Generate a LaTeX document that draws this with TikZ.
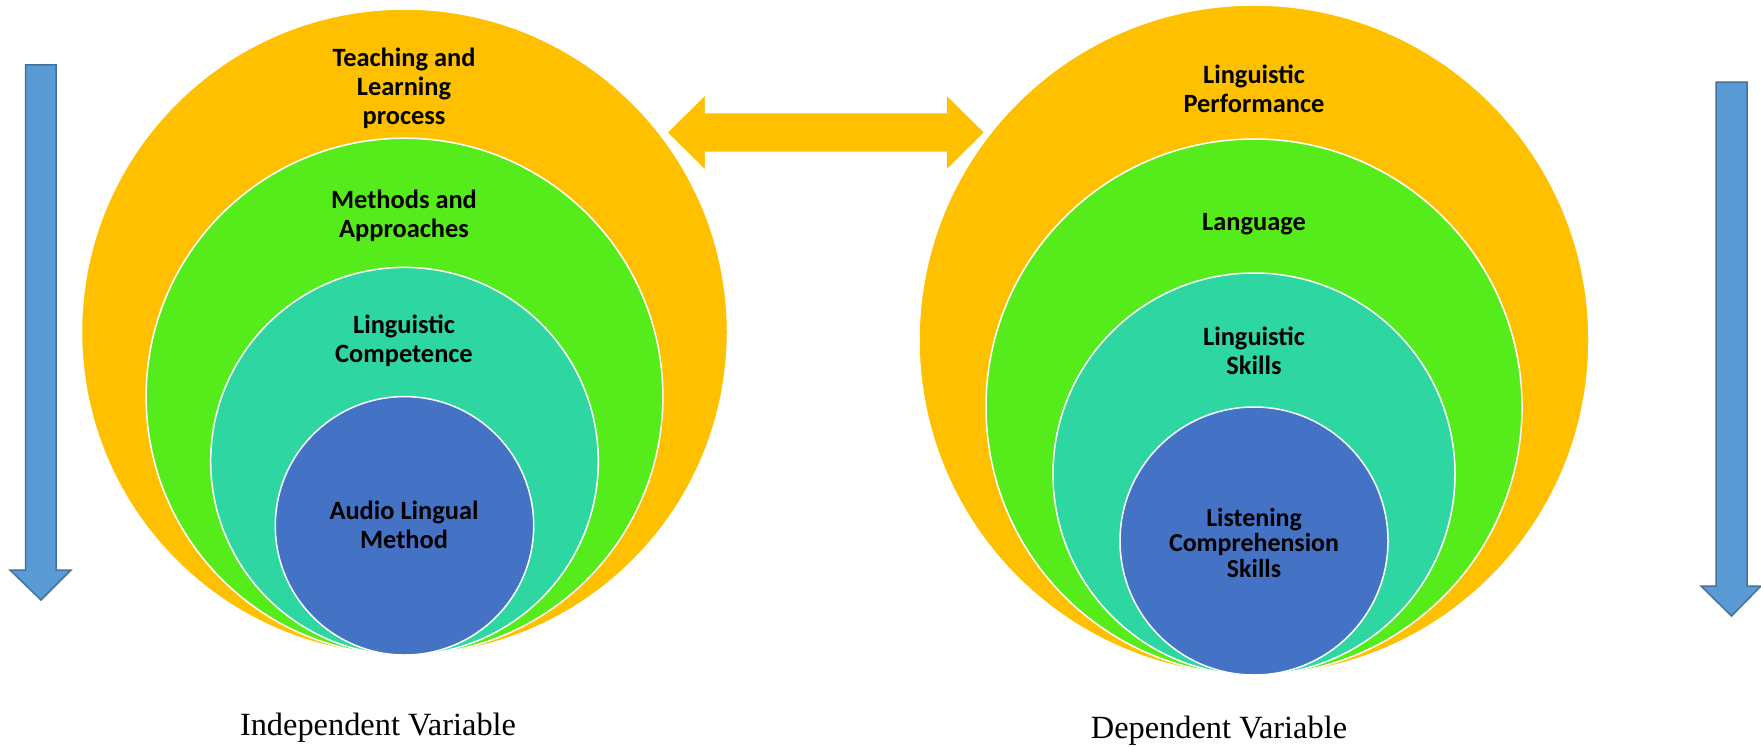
\documentclass[tikz,border=0pt]{standalone}
\usepackage{fontspec}
\setmainfont{Liberation Serif}
\newfontfamily\calibri{Carlito}
\definecolor{ringorange}{HTML}{FFC000}
\definecolor{ringgreen}{HTML}{56EB1B}
\definecolor{ringteal}{HTML}{2ED6A2}
\definecolor{ringblue}{HTML}{4472C4}
\definecolor{arrowblue}{HTML}{5B9BD5}
\definecolor{arrowedge}{HTML}{41719C}

\begin{document}
\begin{tikzpicture}[
	x=1bp, y=-1bp,
	ring/.style={
		circle, draw=white, line width=1.5bp, inner sep=0pt
	},
	lbl/.style={align=center, font=\calibri\bfseries\fontsize{26.5}{29}\selectfont},
	small/.style={align=center, font=\calibri\bfseries\fontsize{26}{25.7}\selectfont},
	caption/.style={font=\fontsize{32.5}{36}\selectfont},
	blockarr/.style={fill=arrowblue, draw=arrowedge, line width=1.5bp, line join=miter}
]
\useasboundingbox (0,0) rectangle (1761,747);

% Left rings: radii 323 / 258.4 / 193.8 / 129.2, all touching at y=655
\node[ring, fill=ringorange, minimum size=646bp]   (tlp) at (404.5, 332)   {};
\node[ring, fill=ringgreen,  minimum size=516.8bp] (ma)  at (404.5, 396.6) {};
\node[ring, fill=ringteal,   minimum size=387.6bp] (lc)  at (404.5, 461.2) {};
\node[ring, fill=ringblue,   minimum size=258.4bp] (alm) at (404.5, 525.8) {};

% Right rings: radii 335 / 268 / 201 / 134, all touching at y=675
\node[ring, fill=ringorange, minimum size=670bp] (lp)  at (1254, 340) {};
\node[ring, fill=ringgreen,  minimum size=536bp] (lan) at (1254, 407) {};
\node[ring, fill=ringteal,   minimum size=402bp] (ls)  at (1254, 474) {};
\node[ring, fill=ringblue,   minimum size=268bp] (lcs) at (1254, 541) {};

% Ring labels
\node[lbl] (tlp-t) at (404, 88.5)  {Teaching and\\Learning\\process};
\node[lbl] (ma-t)  at (404, 215.5) {Methods and\\Approaches};
\node[lbl] (lc-t)  at (404, 340.5) {Linguistic\\Competence};
\node[lbl] (alm-t) at (404, 525)   {Audio Lingual\\Method};

\node[lbl]   (lp-t)  at (1254, 89)  {Linguistic\\Performance};
\node[lbl]   (lan-t) at (1254, 224.5) {Language};
\node[lbl]   (ls-t)  at (1254, 351) {Linguistic\\Skills};
\node[small] (lcs-t) at (1254, 543) {Listening\\Comprehension\\Skills};

% Captions
\node[caption] (iv) at (378, 728)  {Independent Variable};
\node[caption] (dv) at (1219, 731) {Dependent Variable};

% Double arrow between the two outer rings
\fill[ringorange, draw=white, line width=1.5bp]
	(666.7,132.5) -- (705.7,94) -- (705.7,112.7) -- (946,112.7) -- (946,94)
	-- (985,132.5) -- (946,171) -- (946,152.3) -- (705.7,152.3) -- (705.7,171) -- cycle;

% Left downward arrow
\draw[blockarr]
	(25.7,65) -- (56,65) -- (56,570) -- (71,570) -- (41,600)
	-- (10,570) -- (25.7,570) -- cycle;

% Right downward arrow
\draw[blockarr]
	(1716,82) -- (1747,82) -- (1747,586) -- (1761,586) -- (1731.5,616)
	-- (1701,586) -- (1716,586) -- cycle;

\end{tikzpicture}
\end{document}
